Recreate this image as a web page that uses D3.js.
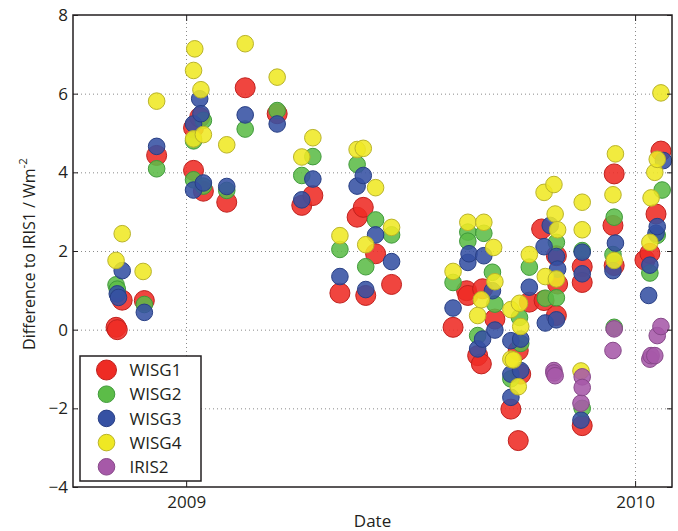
<!DOCTYPE html>
<html>
<head>
<meta charset="utf-8">
<script src="https://cdn.jsdelivr.net/npm/d3@7"></script>
<style>
    body { margin: 0; background: #fff; }
    svg { display: block; }
    text { font-family: "Open Sans", sans-serif; fill: #231f20; }
</style>
</head>
<body>
<div id="chart"></div>
<script>
// data: [date, difference to IRIS1 in W m^-2]
const wisg1 = [
    ["2008-11-05", 0.06], ["2008-11-06", 0.00], ["2008-11-10", 0.75], ["2008-11-28", 0.74],
    ["2008-12-08", 4.43], ["2009-01-07", 5.13], ["2009-01-07", 4.05], ["2009-01-12", 5.40],
    ["2009-01-15", 3.52], ["2009-02-03", 3.24], ["2009-02-18", 6.15], ["2009-03-16", 5.49],
    ["2009-04-05", 3.16], ["2009-04-14", 3.41], ["2009-05-06", 0.93], ["2009-05-20", 2.86],
    ["2009-05-25", 3.11], ["2009-05-27", 0.87], ["2009-06-04", 1.93], ["2009-06-17", 1.15],
    ["2009-08-06", 0.06], ["2009-08-17", 0.99], ["2009-08-18", 0.87], ["2009-08-26", -0.66],
    ["2009-08-29", -0.87], ["2009-08-30", 1.04], ["2009-09-09", 0.27], ["2009-09-22", -2.02],
    ["2009-09-28", -2.82], ["2009-09-28", -0.53], ["2009-09-30", -1.13], ["2009-10-07", 0.70],
    ["2009-10-17", 2.56], ["2009-10-19", 0.74], ["2009-10-29", 1.88], ["2009-10-29", 0.36],
    ["2009-10-30", 1.16], ["2009-11-19", 1.60], ["2009-11-19", 1.20], ["2009-11-19", -2.44],
    ["2009-12-14", 2.65], ["2009-12-15", 3.96], ["2009-12-15", 1.63], ["2010-01-09", 1.77],
    ["2010-01-13", 1.94], ["2010-01-18", 2.94], ["2010-01-22", 4.54]
];
const wisg2 = [
    ["2008-11-05", 1.14], ["2008-11-06", 1.03], ["2008-11-28", 0.64], ["2008-12-08", 4.09],
    ["2009-01-07", 4.80], ["2009-01-07", 3.81], ["2009-01-15", 5.32], ["2009-01-15", 3.65],
    ["2009-02-03", 3.54], ["2009-02-18", 5.10], ["2009-03-16", 5.57], ["2009-04-05", 3.92],
    ["2009-04-14", 4.40], ["2009-05-06", 2.04], ["2009-05-20", 4.20], ["2009-05-27", 1.60],
    ["2009-06-04", 2.79], ["2009-06-17", 2.41], ["2009-08-06", 1.20], ["2009-08-18", 2.48],
    ["2009-08-18", 2.25], ["2009-08-26", -0.15], ["2009-08-31", 2.45], ["2009-09-07", 1.46],
    ["2009-09-09", 0.65], ["2009-09-22", -1.25], ["2009-09-29", 0.31], ["2009-09-30", -0.35],
    ["2009-10-07", 1.59], ["2009-10-20", 0.80], ["2009-10-29", 0.81], ["2009-10-29", 2.22],
    ["2009-11-19", 2.01], ["2009-11-19", -2.00], ["2009-12-14", 1.91], ["2009-12-15", 2.86],
    ["2009-12-15", 0.06], ["2010-01-13", 1.44], ["2010-01-19", 2.40], ["2010-01-23", 3.55]
];
const wisg3 = [
    ["2008-11-06", 0.91], ["2008-11-07", 0.82], ["2008-11-10", 1.50], ["2008-11-28", 0.44],
    ["2008-12-08", 4.66], ["2009-01-07", 5.23], ["2009-01-07", 3.55], ["2009-01-12", 5.87],
    ["2009-01-13", 5.49], ["2009-01-15", 3.73], ["2009-02-03", 3.64], ["2009-02-18", 5.46],
    ["2009-03-16", 5.23], ["2009-04-05", 3.30], ["2009-04-14", 3.83], ["2009-05-06", 1.35],
    ["2009-05-20", 3.65], ["2009-05-25", 3.92], ["2009-05-27", 1.02], ["2009-06-04", 2.41],
    ["2009-06-17", 1.73], ["2009-08-06", 0.55], ["2009-08-18", 1.71], ["2009-08-19", 1.93],
    ["2009-08-26", -0.49], ["2009-08-30", -0.24], ["2009-08-31", 1.88], ["2009-09-07", 0.99],
    ["2009-09-09", -0.01], ["2009-09-22", -0.28], ["2009-09-22", -1.13], ["2009-09-22", -1.72],
    ["2009-09-30", -0.24], ["2009-09-30", -1.04], ["2009-10-07", 1.08], ["2009-10-19", 2.11],
    ["2009-10-20", 0.17], ["2009-10-24", 2.65], ["2009-10-29", 1.86], ["2009-10-29", 0.25],
    ["2009-10-30", 1.54], ["2009-11-18", -2.30], ["2009-11-19", 1.97], ["2009-11-19", 1.42],
    ["2009-12-14", 1.50], ["2009-12-16", 2.20], ["2010-01-12", 0.87], ["2010-01-13", 1.64],
    ["2010-01-18", 2.45], ["2010-01-19", 2.62], ["2010-01-24", 4.30]
];
const wisg4 = [
    ["2008-11-05", 1.76], ["2008-11-10", 2.44], ["2008-11-27", 1.48], ["2008-12-08", 5.81],
    ["2009-01-07", 6.59], ["2009-01-07", 4.85], ["2009-01-08", 7.14], ["2009-01-13", 6.10],
    ["2009-01-15", 4.96], ["2009-02-03", 4.70], ["2009-02-18", 7.27], ["2009-03-16", 6.42],
    ["2009-04-05", 4.39], ["2009-04-14", 4.88], ["2009-05-06", 2.39], ["2009-05-20", 4.58],
    ["2009-05-25", 4.61], ["2009-05-27", 2.16], ["2009-06-04", 3.61], ["2009-06-17", 2.60],
    ["2009-08-06", 1.48], ["2009-08-18", 2.73], ["2009-08-26", 0.36], ["2009-08-29", 0.76],
    ["2009-08-31", 2.73], ["2009-09-08", 2.09], ["2009-09-09", 1.22], ["2009-09-22", 0.51],
    ["2009-09-22", -0.75], ["2009-09-24", -0.77], ["2009-09-28", -1.45], ["2009-09-29", 0.67],
    ["2009-09-30", 0.08], ["2009-10-07", 1.91], ["2009-10-19", 3.49], ["2009-10-20", 1.35],
    ["2009-10-27", 3.69], ["2009-10-28", 2.94], ["2009-10-29", 1.29], ["2009-10-30", 2.54],
    ["2009-11-18", -1.05], ["2009-11-19", 3.24], ["2009-11-19", 2.54], ["2009-12-14", 3.43],
    ["2009-12-15", 1.76], ["2009-12-16", 4.47], ["2010-01-13", 2.22], ["2010-01-14", 3.35],
    ["2010-01-17", 4.00], ["2010-01-19", 4.33], ["2010-01-22", 6.02]
];
const iris2 = [
    ["2009-10-27", -1.04], ["2009-10-27", -1.10], ["2009-10-28", -1.17], ["2009-11-18", -1.87],
    ["2009-11-19", -1.20], ["2009-11-19", -1.47], ["2009-12-14", -0.53], ["2009-12-15", 0.02],
    ["2010-01-13", -0.75], ["2010-01-14", -0.66], ["2010-01-17", -0.66], ["2010-01-19", -0.15],
    ["2010-01-22", 0.08]
];

const seriesNames = ["WISG1", "WISG2", "WISG3", "WISG4", "IRIS2"];
const yTicks = [-4, -2, 0, 2, 4, 6, 8];
const xTicks = ["2009-01-01", "2010-01-01"];

const allSeries = [wisg1, wisg2, wisg3, wisg4, iris2];
const fills = ["#ee2b24", "#5cbc48", "#3651a3", "#efe824", "#a659a8"];
const strokes = ["#c0201d", "#3f9a3a", "#283f85", "#b9b32a", "#874889"];
const radius = [10, 8.3, 8.3, 8.3, 8.3];

const width = 678, height = 531;
const margin = { top: 15, right: 6, bottom: 44, left: 73 };
const parse = d3.utcParse("%Y-%m-%d");

const svg = d3.select("#chart")
    .append("svg")
    .attr("width", width)
    .attr("height", height);

const x = d3.scaleUtc()
    .domain([parse("2008-10-01"), parse("2010-01-31")])
    .range([margin.left, width - margin.right]);

const y = d3.scaleLinear()
    .domain([-4, 8])
    .range([height - margin.bottom, margin.top]);

// dotted grid
const grid = svg.append("g")
    .attr("stroke", "#8a8a8a")
    .attr("stroke-width", 1)
    .attr("stroke-dasharray", "1,3");

grid.selectAll("line.h")
    .data(yTicks.slice(1, -1))
    .join("line")
    .attr("x1", margin.left).attr("x2", width - margin.right)
    .attr("y1", d => y(d) + 0.5).attr("y2", d => y(d) + 0.5);

grid.selectAll("line.v")
    .data(xTicks.map(parse))
    .join("line")
    .attr("x1", d => Math.round(x(d)) + 0.5).attr("x2", d => Math.round(x(d)) + 0.5)
    .attr("y1", margin.top).attr("y2", height - margin.bottom);

// points, in plotting order
allSeries.forEach((data, i) => {
    svg.append("g")
        .selectAll("circle")
        .data(data)
        .join("circle")
        .attr("cx", d => x(parse(d[0])))
        .attr("cy", d => y(d[1]))
        .attr("r", radius[i])
        .attr("fill", fills[i])
        .attr("fill-opacity", 0.88)
        .attr("stroke", strokes[i])
        .attr("stroke-width", 1);
});

// axes with inward ticks
svg.append("g")
    .attr("transform", `translate(${margin.left},0)`)
    .call(d3.axisLeft(y).tickValues(yTicks).tickSizeInner(-5).tickSizeOuter(0).tickPadding(5).tickFormat(d3.format("")))
    .call(g => g.select(".domain").remove())
    .call(g => g.selectAll("text").attr("font-size", 17).attr("font-family", "Open Sans"));

svg.append("g")
    .attr("transform", `translate(${width - margin.right},0)`)
    .call(d3.axisRight(y).tickValues(yTicks).tickSizeInner(-5).tickSizeOuter(0).tickFormat(""))
    .call(g => g.select(".domain").remove());

svg.append("g")
    .attr("transform", `translate(0,${height - margin.bottom})`)
    .call(d3.axisBottom(x).tickValues(xTicks.map(parse)).tickSizeInner(-6).tickSizeOuter(0)
        .tickPadding(9).tickFormat(d3.utcFormat("%Y")))
    .call(g => g.select(".domain").remove())
    .call(g => g.selectAll("text").attr("font-size", 17).attr("font-family", "Open Sans"));

svg.append("g")
    .attr("transform", `translate(0,${margin.top})`)
    .call(d3.axisTop(x).tickValues(xTicks.map(parse)).tickSizeInner(-6).tickSizeOuter(0).tickFormat(""))
    .call(g => g.select(".domain").remove());

svg.selectAll(".tick line").attr("stroke", "#231f20");

// frame
svg.append("rect")
    .attr("x", margin.left)
    .attr("y", margin.top)
    .attr("width", width - margin.left - margin.right)
    .attr("height", height - margin.top - margin.bottom)
    .attr("fill", "none")
    .attr("stroke", "#231f20")
    .attr("stroke-width", 1.5);

// axis labels
const yLabel = svg.append("text")
    .attr("transform", `translate(35,${(margin.top + height - margin.bottom) / 2 + 3}) rotate(-90)`)
    .attr("text-anchor", "middle")
    .attr("font-size", 16);
yLabel.append("tspan").text("Difference to IRIS1 / Wm");
yLabel.append("tspan").attr("font-size", 11.5).attr("dy", -8).text("-2");

svg.append("text")
    .attr("x", (margin.left + width - margin.right) / 2)
    .attr("y", 527)
    .attr("text-anchor", "middle")
    .attr("font-size", 17)
    .text("Date");

// legend
const legend = svg.append("g");
legend.append("rect")
    .attr("x", 80).attr("y", 356)
    .attr("width", 121).attr("height", 125)
    .attr("fill", "#fff")
    .attr("stroke", "#231f20")
    .attr("stroke-width", 1.5);

const rows = legend.selectAll("g.row")
    .data(seriesNames)
    .join("g")
    .attr("transform", (d, i) => `translate(106.5,${370 + i * 24.2})`);

rows.append("circle")
    .attr("r", (d, i) => radius[i])
    .attr("fill", (d, i) => fills[i])
    .attr("stroke", (d, i) => strokes[i]);

rows.append("text")
    .attr("x", 23)
    .attr("dy", "0.36em")
    .attr("font-size", 17)
    .text(d => d);
</script>
</body>
</html>
